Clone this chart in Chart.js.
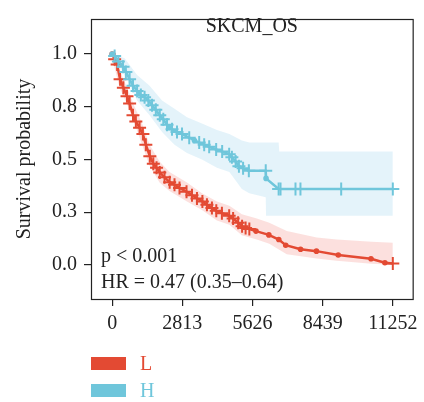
<!DOCTYPE html>
<html>
<head>
<meta charset="utf-8">
<script src="https://cdn.jsdelivr.net/npm/chart.js@4"></script>
<style>
  body { margin: 0; background: #fff; }
  #km { display: block; }
</style>
</head>
<body>
<canvas id="km" width="424" height="402"></canvas>
<script>
// Kaplan-Meier curves (time in days)
const groups = ['L', 'H'];
const title = 'SKCM_OS';
const pText = 'p < 0.001';
const hrText = 'HR = 0.47 (0.35–0.64)';

const xTicks = [0, 2813, 5626, 8439, 11252];
const yTicks = [0, 0.25, 0.5, 0.75, 1];

// H group: times, survival, censored flag
const timeH = [0, 100, 250, 437, 550, 700, 835, 1000, 1150, 1300, 1450, 1600, 1750, 1909, 2050, 2200, 2306, 2400, 2600, 2800, 3090, 3300, 3490, 3690, 3890, 4170, 4410, 4692, 4800, 4950, 5082, 5250, 5480, 6157, 6170, 6674, 6750, 7350, 7549, 9182, 11252];
const survH = [1.0, 0.99, 0.965, 0.94, 0.915, 0.88, 0.85, 0.825, 0.805, 0.795, 0.78, 0.757, 0.735, 0.71, 0.69, 0.665, 0.65, 0.643, 0.63, 0.62, 0.603, 0.59, 0.58, 0.57, 0.56, 0.547, 0.537, 0.525, 0.51, 0.49, 0.468, 0.458, 0.446, 0.446, 0.41, 0.36, 0.36, 0.36, 0.36, 0.36, 0.36];
const censH = [0, 1, 1, 1, 1, 1, 1, 1, 1, 1, 1, 1, 1, 1, 1, 1, 0, 1, 1, 1, 1, 0, 1, 1, 1, 1, 1, 1, 1, 1, 1, 1, 1, 1, 0, 1, 1, 1, 1, 1, 1];

// L group
const timeL = [0, 100, 200, 318, 450, 596, 700, 835, 950, 1100, 1233, 1350, 1511, 1650, 1780, 1909, 2100, 2306, 2500, 2700, 2982, 3200, 3400, 3618, 3800, 4000, 4175, 4400, 4692, 4850, 5050, 5209, 5350, 5500, 5766, 6282, 6680, 6958, 7554, 8190, 9065, 10377, 10934, 11252];
const survL = [1.0, 0.975, 0.95, 0.88, 0.84, 0.8, 0.765, 0.71, 0.68, 0.65, 0.62, 0.57, 0.515, 0.48, 0.46, 0.438, 0.415, 0.392, 0.38, 0.365, 0.347, 0.33, 0.315, 0.301, 0.285, 0.27, 0.256, 0.245, 0.233, 0.22, 0.2, 0.183, 0.175, 0.17, 0.16, 0.142, 0.12, 0.093, 0.074, 0.065, 0.047, 0.029, 0.01, 0.006];
const censL = [0, 1, 1, 1, 1, 1, 1, 1, 1, 1, 1, 1, 1, 1, 1, 1, 1, 1, 1, 1, 1, 1, 1, 1, 1, 1, 1, 1, 1, 1, 1, 1, 1, 1, 0, 0, 0, 0, 0, 0, 0, 0, 0, 1];

// 95% confidence bands
const bandTimeH = [0, 500, 1000, 1500, 2000, 2500, 3000, 3600, 4200, 4700, 5200, 5500, 6157, 6170, 6674, 6700, 11252];
const upperH = [1.0, 0.98, 0.9, 0.85, 0.78, 0.74, 0.7, 0.67, 0.64, 0.62, 0.59, 0.58, 0.58, 0.58, 0.58, 0.537, 0.537];
const lowerH = [1.0, 0.9, 0.78, 0.71, 0.63, 0.57, 0.53, 0.5, 0.46, 0.44, 0.36, 0.34, 0.32, 0.233, 0.233, 0.233, 0.233];

const bandTimeL = [0, 300, 600, 900, 1200, 1500, 1900, 2300, 3000, 3600, 4200, 4700, 5200, 5800, 6300, 7000, 8200, 9000, 10400, 11252];
const upperL = [1.0, 0.92, 0.84, 0.75, 0.67, 0.57, 0.49, 0.44, 0.39, 0.34, 0.3, 0.28, 0.24, 0.22, 0.2, 0.16, 0.13, 0.12, 0.11, 0.105];
const lowerL = [0.98, 0.84, 0.76, 0.67, 0.57, 0.47, 0.39, 0.35, 0.3, 0.26, 0.21, 0.19, 0.14, 0.12, 0.1, 0.05, 0.03, 0.02, 0.005, 0.0];

const RED = '#E34A33';
const BLUE = '#6FC6DB';
const INK = '#222';
const FONT = '"Liberation Serif", "DejaVu Serif", serif';

const pts = (xs, ys) => xs.map((x, i) => ({ x: x, y: ys[i] }));

function curve(label, xs, ys, cens, color) {
  return {
    label: label,
    data: pts(xs, ys),
    borderColor: color,
    backgroundColor: color,
    borderWidth: 2.5,
    tension: 0,
    fill: false,
    pointStyle: c => cens[c.dataIndex] ? 'cross' : 'circle',
    pointRadius: c => cens[c.dataIndex] ? 6.5 : 1.8,
    pointBorderWidth: 2,
    pointBorderColor: color,
    pointBackgroundColor: color
  };
}

function band(xs, ys, fillColor, isLower) {
  return {
    data: pts(xs, ys),
    borderWidth: 0,
    pointRadius: 0,
    tension: 0,
    fill: isLower ? '-1' : false,
    backgroundColor: fillColor
  };
}

// frame, title, annotations and legend
const decor = {
  id: 'decor',
  afterDraw(chart) {
    const { ctx, chartArea: a } = chart;
    ctx.save();
    ctx.strokeStyle = INK;
    ctx.lineWidth = 1.2;
    ctx.strokeRect(a.left + 0.5, a.top + 0.5, a.right - a.left, a.bottom - a.top);

    ctx.fillStyle = INK;
    ctx.font = '20px ' + FONT;
    ctx.textAlign = 'center';
    ctx.textBaseline = 'alphabetic';
    ctx.fillText(title, (a.left + a.right) / 2, 32);

    ctx.textAlign = 'left';
    ctx.fillText(pText, 101, 262);
    ctx.fillText(hrText, 101, 288);

    const cols = [RED, BLUE];
    groups.forEach((g, i) => {
      const y = 357 + i * 27;
      ctx.fillStyle = cols[i];
      ctx.fillRect(91, y, 35, 13);
      ctx.fillText(g, 140, y + 13);
    });
    ctx.restore();
  }
};

new Chart(document.getElementById('km'), {
  type: 'line',
  data: {
    datasets: [
      curve(groups[1], timeH, survH, censH, BLUE),
      curve(groups[0], timeL, survL, censL, RED),
      band(bandTimeH, upperH, 'rgba(120,195,230,0.2)', false),
      band(bandTimeH, lowerH, 'rgba(120,195,230,0.2)', true),
      band(bandTimeL, upperL, 'rgba(245,130,125,0.25)', false),
      band(bandTimeL, lowerL, 'rgba(245,130,125,0.25)', true)
    ]
  },
  options: {
    responsive: false,
    animation: false,
    devicePixelRatio: 1,
    layout: { padding: { left: 0, top: 6, right: 9, bottom: 0 } },
    plugins: {
      legend: { display: false },
      tooltip: { enabled: false }
    },
    scales: {
      x: {
        type: 'linear',
        min: -848,
        max: 12048,
        afterBuildTicks: s => { s.ticks = xTicks.map(v => ({ value: v })); },
        afterFit: s => { s.height = 103; },
        border: { display: false },
        grid: { drawOnChartArea: false, drawTicks: true, tickLength: 7, color: INK, lineWidth: 1.2 },
        ticks: { color: INK, font: { family: FONT, size: 20 }, padding: 6, maxRotation: 0, callback: v => String(v) }
      },
      y: {
        min: -0.162,
        max: 1.166,
        afterBuildTicks: s => { s.ticks = yTicks.map(v => ({ value: v })); },
        afterFit: s => { s.width = 91; },
        border: { display: false },
        grid: { drawOnChartArea: false, drawTicks: true, tickLength: 7, color: INK, lineWidth: 1.2 },
        ticks: { color: INK, font: { family: FONT, size: 20 }, padding: 7, callback: v => v.toFixed(1) },
        title: {
          display: true,
          text: 'Survival probability',
          color: INK,
          font: { family: FONT, size: 20, lineHeight: 1.2 },
          padding: { top: 13, bottom: 0 }
        }
      }
    }
  },
  plugins: [decor]
});
</script>
</body>
</html>
